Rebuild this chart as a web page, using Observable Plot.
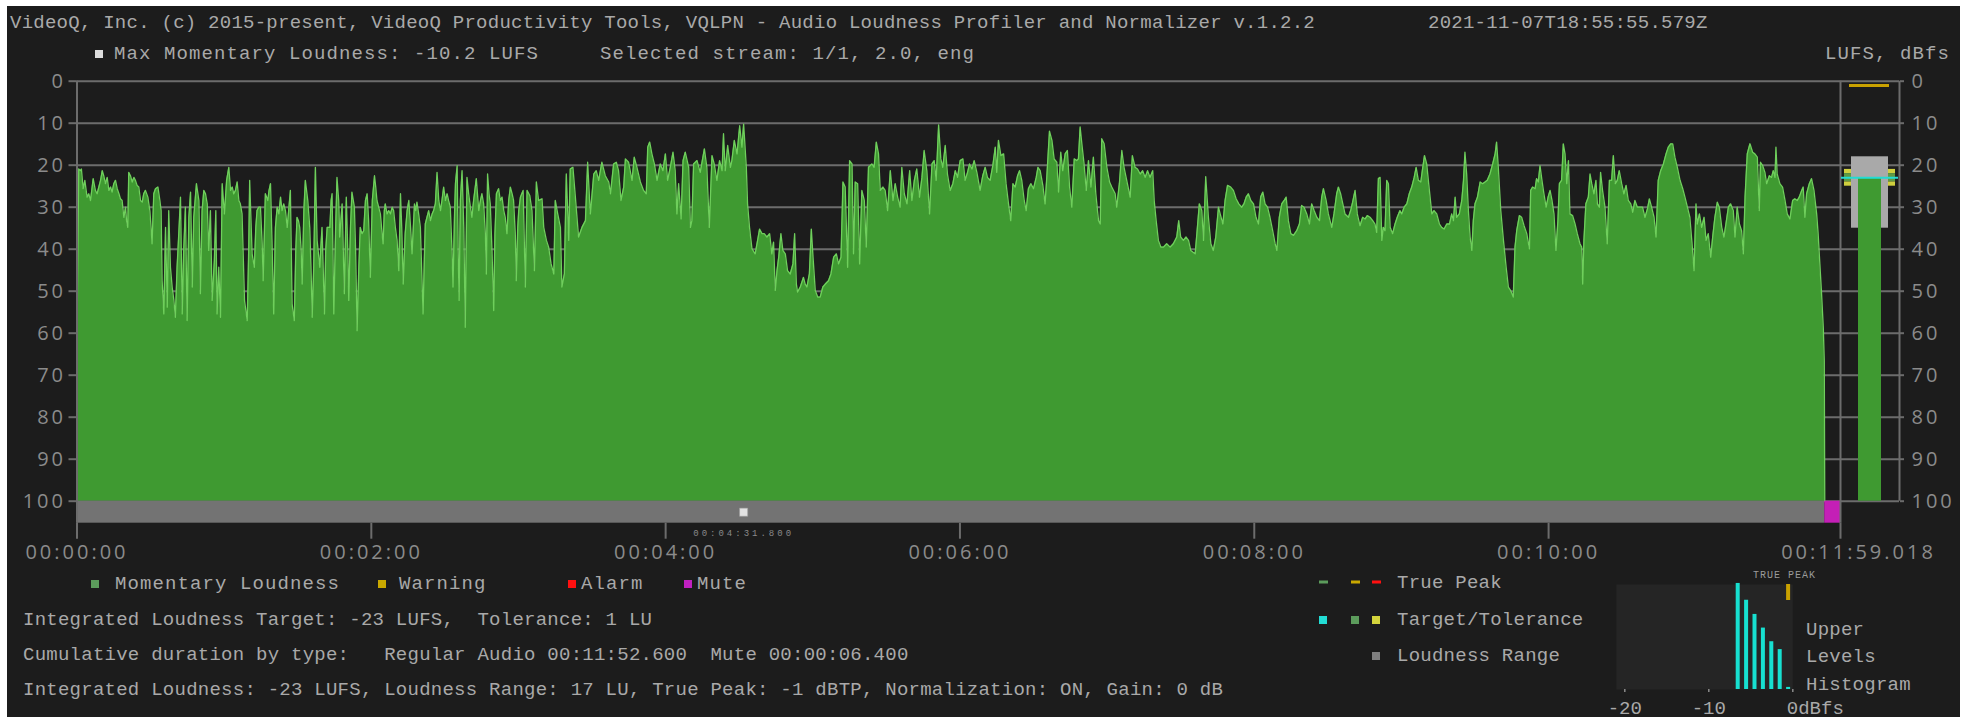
<!DOCTYPE html>
<html><head><meta charset="utf-8">
<script src="https://cdn.jsdelivr.net/npm/d3@7"></script>
<script src="https://cdn.jsdelivr.net/npm/@observablehq/plot@0.6"></script>
<style>
html,body{margin:0;padding:0;background:#fff;overflow:hidden;width:1967px;height:718px}
#bg{position:absolute;left:7px;top:6px;width:1953px;height:711px;background:#1c1c1c}
.layer{position:absolute;left:0;top:0}
.layer svg{max-width:none;display:block}
.t{position:absolute;font-family:"Liberation Mono",monospace;font-size:19px;letter-spacing:0.25px;color:#a9a9a9;white-space:pre;line-height:1;transform:translateY(-50%)}
.w{letter-spacing:1.1px}
.sq{position:absolute;transform:translateY(-50%)}
</style></head><body>
<div id="bg"></div>
<div id="main" class="layer"></div>
<div id="meter" class="layer"></div>
<div id="hist" class="layer"></div>
<div id="texts"></div>
<script>
// ---------------- data ----------------
// momentary loudness readings: [time in seconds, LUFS]
const momentaryReadings = [
[0.0,-61.7],[0.7,-20.9],[1.4,-21.3],[1.8,-20.9],[2.5,-25.6],[3.2,-23.6],[4.1,-27.6],[4.8,-26.8],[5.5,-28.4],[6.6,-23.2],
[7.5,-26.0],[8.2,-26.8],[9.6,-23.6],[10.3,-21.3],[10.9,-22.5],[11.6,-24.4],[12.3,-22.9],[13.0,-26.0],[13.7,-25.2],[14.3,-26.4],
[15.0,-24.4],[15.7,-23.6],[16.4,-25.6],[17.1,-26.8],[17.7,-28.0],[18.4,-28.4],[19.1,-32.4],[19.8,-30.0],[20.2,-33.2],[20.7,-34.8],
[21.1,-21.7],[21.8,-22.5],[22.5,-24.0],[23.2,-22.9],[23.8,-23.6],[24.5,-24.8],[25.2,-25.2],[25.9,-28.4],[26.6,-28.8],[27.2,-26.8],
[27.9,-26.0],[28.9,-27.6],[29.7,-30.8],[30.2,-34.8],[30.6,-38.7],[31.3,-26.8],[32.0,-25.6],[33.0,-25.2],[33.8,-28.4],[34.3,-30.8],
[34.7,-47.5],[35.4,-55.4],[36.1,-34.8],[36.8,-53.8],[37.4,-30.8],[38.1,-44.3],[38.8,-49.0],[39.5,-52.2],[40.1,-56.2],[40.8,-44.3],
[41.5,-36.3],[42.2,-27.6],[42.9,-55.4],[43.5,-40.3],[44.2,-30.0],[44.9,-57.0],[45.6,-32.4],[46.3,-26.4],[47.0,-49.0],[47.6,-32.4],
[48.7,-24.4],[49.7,-28.4],[50.3,-50.6],[51.0,-30.8],[51.7,-26.0],[52.4,-26.8],[53.1,-29.2],[53.7,-40.3],[54.4,-30.8],[55.1,-52.2],
[56.0,-42.7],[56.6,-30.8],[57.1,-55.4],[57.8,-44.3],[58.5,-56.2],[59.2,-24.4],[60.1,-31.6],[61.0,-23.6],[61.9,-20.5],[62.6,-26.0],
[63.3,-25.2],[63.9,-26.8],[64.6,-26.0],[65.3,-24.0],[66.0,-28.4],[66.6,-29.2],[67.3,-31.6],[68.3,-52.2],[69.4,-57.0],[70.0,-40.3],
[70.4,-23.6],[71.4,-41.1],[72.3,-44.3],[72.9,-34.8],[73.4,-30.8],[74.1,-30.0],[74.8,-30.0],[75.5,-38.7],[75.9,-47.5],[76.8,-26.8],
[77.8,-28.4],[78.3,-26.0],[78.9,-24.4],[79.5,-37.9],[80.2,-55.4],[80.9,-34.8],[81.6,-30.0],[82.3,-31.6],[83.0,-27.6],[83.6,-30.8],
[84.3,-29.2],[85.0,-30.8],[85.7,-34.8],[86.3,-30.8],[87.0,-26.0],[87.7,-53.0],[88.6,-57.0],[89.2,-40.3],[89.7,-32.4],[90.3,-33.2],
[90.8,-34.8],[91.4,-40.3],[91.8,-48.3],[92.5,-30.8],[93.1,-23.6],[94.1,-28.4],[94.9,-34.8],[95.4,-44.3],[95.9,-56.2],[96.5,-44.3],
[97.2,-20.5],[97.9,-37.9],[99.0,-44.3],[99.5,-38.7],[99.9,-34.8],[100.9,-55.4],[101.4,-40.3],[102.0,-34.8],[103.1,-34.8],[103.6,-28.4],
[104.0,-26.8],[104.7,-55.4],[105.4,-36.3],[106.0,-22.9],[106.7,-28.4],[107.1,-37.1],[108.1,-29.2],[109.0,-50.6],[109.8,-27.6],[110.4,-40.3],
[110.8,-52.2],[111.5,-34.8],[112.1,-26.4],[113.1,-30.0],[113.6,-40.3],[114.2,-59.4],[114.9,-44.3],[115.5,-34.8],[116.2,-36.3],[116.9,-35.6],
[117.6,-28.4],[118.3,-26.8],[118.9,-33.2],[119.6,-46.7],[120.4,-28.4],[121.3,-22.5],[121.8,-25.2],[122.3,-28.4],[123.0,-30.0],[123.7,-31.6],
[124.4,-36.3],[124.8,-38.7],[125.3,-30.8],[125.7,-29.2],[126.4,-31.6],[127.1,-30.8],[127.8,-31.6],[128.5,-30.0],[129.1,-30.8],[129.8,-34.8],
[130.5,-37.9],[131.2,-45.1],[131.9,-26.8],[132.4,-34.8],[133.0,-48.3],[133.8,-36.3],[134.6,-30.8],[135.3,-28.4],[136.0,-34.8],[136.6,-41.1],
[137.6,-29.2],[138.1,-30.8],[138.6,-28.8],[139.3,-31.6],[140.0,-34.8],[140.5,-44.3],[141.1,-55.4],[141.6,-42.7],[142.0,-34.0],[142.7,-32.4],
[143.4,-30.8],[144.1,-33.2],[144.8,-31.6],[145.4,-30.8],[146.1,-29.2],[146.8,-21.7],[147.5,-28.4],[148.2,-30.8],[148.8,-28.4],[149.5,-25.2],
[150.2,-28.4],[150.9,-26.8],[151.5,-28.4],[152.2,-30.0],[152.9,-40.3],[153.3,-49.0],[153.9,-32.4],[154.3,-24.4],[155.0,-20.1],[155.4,-40.3],
[155.8,-52.2],[156.3,-28.4],[157.0,-21.3],[157.7,-34.8],[158.3,-58.6],[159.0,-22.9],[159.7,-26.8],[160.4,-30.0],[161.0,-32.4],[161.7,-28.4],
[162.8,-23.2],[163.8,-30.8],[164.5,-28.4],[165.1,-26.8],[165.8,-29.2],[166.5,-36.3],[166.9,-45.9],[167.4,-22.1],[168.0,-26.8],[168.5,-29.2],
[169.2,-40.3],[169.9,-54.6],[170.4,-36.3],[171.0,-26.8],[171.9,-25.6],[172.6,-28.4],[173.3,-27.6],[174.0,-30.8],[174.6,-32.4],[175.3,-36.3],
[176.0,-28.4],[176.7,-25.2],[177.4,-26.8],[178.0,-28.4],[178.7,-36.3],[179.1,-47.5],[179.7,-34.8],[180.1,-30.8],
[180.8,-27.6],[181.9,-26.0],[182.8,-49.0],[183.5,-26.0],[184.6,-27.2],[185.5,-30.8],[186.5,-45.1],[187.3,-24.0],[188.2,-28.4],[189.6,-28.0],
[190.3,-34.8],[191.4,-37.9],[192.3,-39.5],[193.3,-43.5],[194.4,-45.9],[195.0,-28.4],[196.0,-31.6],[197.1,-34.8],[197.7,-49.0],[198.7,-45.9],
[199.5,-22.1],[200.5,-37.9],[201.1,-20.9],[202.2,-20.5],[203.2,-27.6],[204.5,-37.1],[205.9,-34.8],[207.3,-33.2],[208.2,-19.3],[209.3,-31.6],
[210.7,-22.1],[211.7,-21.3],[212.7,-23.6],[214.0,-19.3],[215.4,-22.5],[216.8,-24.0],[217.5,-26.8],[218.8,-19.7],[219.9,-19.3],[220.8,-21.3],
[221.8,-28.4],[222.9,-25.2],[223.6,-18.5],[224.9,-19.3],[226.3,-23.6],[227.2,-18.1],[228.3,-20.5],[229.7,-24.0],[231.0,-26.0],[232.1,-26.8],
[232.7,-15.7],[233.5,-14.5],[234.4,-17.3],[235.4,-19.7],[236.5,-23.6],[237.8,-19.7],[238.9,-21.3],[239.9,-17.3],[240.8,-23.6],[241.9,-20.5],
[243.0,-16.9],[243.9,-21.3],[244.6,-31.6],[245.3,-24.4],[246.3,-32.8],[247.1,-18.9],[248.0,-16.9],[249.4,-20.5],[250.1,-34.8],[250.7,-33.2],
[251.4,-19.7],[252.8,-18.9],[254.1,-21.7],[255.8,-16.1],[256.8,-20.5],[257.8,-34.8],[258.9,-17.7],[259.8,-19.7],[260.9,-23.6],[262.0,-18.9],
[263.0,-21.3],[263.6,-12.5],[264.3,-21.3],[265.3,-15.3],[266.4,-20.5],[267.0,-18.9],[268.0,-14.1],[269.1,-17.3],[270.2,-10.6],[271.1,-15.7],
[271.8,-10.2],[272.9,-20.5],[273.4,-29.2],[274.2,-34.8],[275.2,-39.9],[276.5,-41.1],[277.5,-37.9],[278.3,-35.2],[279.3,-36.3],[280.2,-36.3],
[281.3,-37.1],[282.4,-36.3],[283.3,-41.1],[284.0,-38.3],[284.7,-49.8],[285.4,-45.1],[286.1,-41.9],[287.0,-36.3],[287.8,-40.3],[288.8,-41.1],
[289.7,-45.1],[290.8,-45.9],[291.9,-43.5],[292.6,-36.3],[293.3,-48.3],[293.8,-50.2],[294.9,-49.0],[296.2,-46.7],[296.9,-48.3],[297.6,-49.0],
[298.6,-45.9],[299.4,-35.2],[300.1,-41.9],[301.0,-49.8],[302.0,-51.4],[303.0,-51.4],[304.1,-49.0],[305.1,-48.3],[306.4,-47.5],[307.4,-45.9],
[308.5,-41.9],[309.6,-41.1],[310.5,-43.5],[311.5,-41.9],[312.3,-24.0],[313.2,-25.2],[314.2,-44.3],[315.0,-18.9],[316.0,-19.7],[316.6,-41.1],
[317.3,-24.0],[318.3,-24.4],[319.1,-43.5],[320.0,-26.0],[321.0,-28.4],[321.8,-39.5],[322.7,-20.5],[324.1,-19.7],[325.0,-20.5],[325.9,-14.5],
[326.8,-17.3],[327.5,-26.0],[328.6,-25.2],[329.5,-26.0],[330.5,-30.8],[331.6,-21.3],[332.7,-28.4],[333.6,-24.4],[334.6,-27.6],[335.6,-30.0],
[336.3,-20.5],[337.3,-26.8],[338.4,-29.2],[339.5,-21.3],[340.4,-28.4],[341.4,-23.6],[342.4,-20.9],[343.5,-27.6],[344.5,-22.9],[345.4,-16.5],
[346.5,-21.3],[347.6,-31.6],[348.6,-19.7],[349.5,-18.9],[350.3,-23.6],[351.3,-10.4],[352.2,-18.5],[353.0,-20.5],[354.0,-15.3],[354.9,-22.1],
[356.0,-26.0],[357.1,-24.4],[358.1,-21.3],[359.0,-22.9],[360.1,-18.9],
[361.2,-18.5],[362.1,-23.6],[363.1,-21.7],[363.9,-19.7],[364.9,-20.9],[365.8,-18.9],[366.9,-21.7],[368.2,-26.0],[369.3,-22.5],[370.3,-20.5],
[371.2,-22.9],[372.3,-23.6],[373.4,-20.1],[374.4,-15.7],[375.0,-21.7],[375.7,-14.1],[376.7,-17.7],[377.8,-17.3],[378.8,-24.4],[379.8,-29.2],
[380.7,-33.2],[381.6,-24.4],[382.5,-25.2],[383.5,-22.5],[384.3,-21.3],[385.2,-23.6],[386.2,-28.4],[387.0,-30.8],[387.9,-25.6],[388.9,-24.4],
[390.0,-25.6],[391.1,-22.9],[391.8,-20.5],[392.7,-21.3],[393.8,-24.8],[394.7,-29.2],[395.4,-22.9],[396.5,-11.9],[397.5,-14.1],[398.4,-18.5],
[399.5,-19.3],[400.2,-26.4],[401.1,-16.9],[401.9,-21.3],[402.9,-17.3],[403.8,-16.5],[404.7,-25.2],[405.6,-30.0],[406.6,-18.5],[407.6,-18.9],
[408.3,-18.5],[409.0,-10.9],[409.7,-14.9],[410.6,-19.7],[411.5,-26.0],[412.4,-18.9],[413.4,-25.2],[414.4,-18.1],[415.4,-26.8],[416.5,-33.2],
[417.2,-34.0],[417.8,-13.7],[418.8,-14.9],[419.9,-20.5],[421.0,-24.0],[421.9,-25.2],[423.3,-26.8],[423.9,-30.0],[425.0,-24.4],[426.0,-16.5],
[426.9,-20.5],[428.0,-23.6],[429.4,-27.6],[430.3,-17.7],[431.4,-20.5],[432.4,-20.9],[433.5,-22.1],[434.5,-21.3],[435.5,-22.9],[436.5,-21.3],
[437.5,-22.9],[438.6,-21.3],[439.2,-28.4],[440.0,-33.2],[440.9,-37.9],[441.9,-39.5],[443.0,-39.5],[444.3,-38.7],[445.7,-39.5],[447.0,-38.7],
[448.4,-37.1],[449.2,-33.2],[450.0,-37.1],[451.1,-37.9],[452.2,-37.1],[453.2,-37.9],[454.1,-40.3],[455.9,-41.1],[456.6,-36.3],[457.6,-29.2],
[458.6,-30.8],[459.3,-37.9],[460.2,-22.7],[461.3,-32.4],[462.3,-38.7],[463.3,-40.3],[464.3,-37.1],[465.4,-30.0],[466.1,-31.6],[467.2,-34.0],
[468.1,-28.4],[469.1,-24.8],[470.4,-25.2],[471.5,-26.0],[472.6,-28.0],[473.7,-29.2],[474.9,-30.0],[475.8,-29.2],[476.7,-27.6],[477.6,-26.8],
[478.6,-28.4],[479.7,-29.2],[480.7,-32.4],[481.7,-34.0],[482.6,-27.6],[483.5,-26.4],[484.4,-29.2],[485.4,-30.0],[486.4,-32.4],[487.5,-35.6],
[488.5,-38.7],[489.2,-40.3],[490.2,-32.4],[491.2,-29.2],[492.2,-28.4],[493.0,-27.6],[493.9,-33.2],[494.9,-36.3],[496.0,-36.7],[497.3,-35.6],
[498.4,-34.0],[499.3,-29.6],[500.3,-30.0],[501.4,-31.6],[502.5,-34.0],[503.4,-29.2],[504.4,-30.8],[505.5,-32.4],[506.6,-33.2],[507.5,-27.6],
[508.2,-25.6],[509.3,-28.4],[510.2,-31.6],[511.6,-34.8],[512.5,-31.6],[513.6,-26.8],[514.3,-25.2],[515.2,-26.8],[516.1,-29.2],[517.0,-31.6],
[518.4,-32.4],[519.3,-30.8],[520.1,-28.8],[521.1,-26.0],[522.0,-31.6],[523.1,-34.4],[524.2,-32.4],[525.2,-32.8],[526.1,-32.0],[527.2,-32.4],
[528.3,-33.2],[529.2,-34.0],[529.9,-36.0],[530.6,-23.2],[531.3,-22.9],[532.0,-37.9],[532.6,-34.8],[533.3,-35.6],[534.0,-23.6],[534.7,-24.4],
[535.4,-34.8],[536.4,-36.3],[537.4,-34.0],[538.3,-32.4],[539.4,-30.8],
[540.1,-31.6],[541.1,-30.0],[542.2,-29.2],[543.2,-26.8],[544.2,-25.2],[545.2,-22.9],[546.0,-20.5],[546.9,-23.6],[547.9,-24.0],[548.7,-20.5],
[549.4,-17.7],[550.3,-19.7],[551.4,-26.0],[552.4,-31.6],[553.3,-30.8],[554.4,-31.6],[555.5,-34.0],[556.4,-34.8],[557.4,-35.2],[558.5,-34.0],
[559.6,-34.0],[560.5,-31.6],[561.2,-33.2],[561.9,-27.6],[562.5,-32.4],[563.6,-31.6],[564.6,-28.4],[565.3,-23.6],[565.9,-16.9],[566.6,-22.1],
[567.3,-30.8],[568.0,-37.1],[568.7,-40.3],[569.3,-33.2],[570.0,-29.2],[571.0,-27.6],[572.1,-24.0],[573.1,-24.4],[574.1,-24.0],[575.0,-23.6],
[576.1,-22.1],[577.2,-19.7],[578.2,-17.3],[578.8,-14.5],[579.5,-20.5],[580.5,-30.8],[581.6,-37.9],[582.7,-44.3],[583.6,-49.0],[584.5,-49.8],
[585.6,-51.4],[586.3,-39.5],[587.0,-35.6],[588.1,-32.0],[589.0,-32.4],[590.0,-34.4],[591.1,-36.3],[592.2,-39.9],[592.7,-26.0],[593.5,-25.2],
[594.5,-25.6],[595.1,-23.2],[595.8,-24.0],[596.5,-20.1],[597.3,-23.6],[598.1,-26.8],[599.0,-30.0],[599.8,-27.6],[600.6,-26.0],[601.4,-28.4],
[602.2,-31.6],[603.0,-40.3],[603.8,-33.2],[604.4,-24.4],[605.3,-23.6],[606.0,-14.9],[606.7,-17.3],[607.4,-24.4],[608.1,-18.9],[608.7,-31.6],
[609.8,-32.0],[610.8,-34.0],[611.7,-36.3],[612.8,-38.7],[613.5,-39.5],[613.9,-48.3],[614.4,-37.9],[615.2,-29.2],[616.2,-27.6],[616.9,-22.1],
[617.6,-24.4],[618.5,-26.8],[619.3,-23.6],[619.9,-29.2],[620.7,-30.0],[621.2,-21.7],[622.0,-26.0],[623.0,-30.0],[623.9,-38.7],[624.8,-23.6],
[625.7,-23.6],[626.4,-17.7],[627.2,-24.4],[628.0,-23.6],[628.8,-21.3],[629.8,-24.4],[630.7,-26.8],[631.6,-24.8],[632.5,-28.4],[633.5,-29.2],
[634.3,-31.2],[635.2,-28.4],[636.2,-30.0],[637.3,-30.0],[638.3,-30.0],[639.3,-32.4],[640.3,-30.4],[641.1,-28.0],[642.0,-30.0],[643.0,-32.4],
[643.8,-37.1],[644.7,-23.6],[645.7,-21.3],[646.8,-19.7],[647.9,-17.3],[648.8,-15.7],[649.8,-14.9],[650.6,-14.9],[651.5,-18.1],[652.5,-20.5],
[653.6,-23.6],[654.7,-25.6],[655.6,-27.6],[656.6,-30.0],[657.6,-32.4],[658.5,-38.7],[659.3,-45.1],[660.1,-29.2],[660.6,-34.0],[661.5,-31.6],
[662.4,-34.8],[663.4,-32.4],[664.2,-37.9],[665.1,-36.3],[666.1,-41.9],[666.9,-37.1],[667.8,-32.4],[668.8,-28.8],[669.6,-30.0],[670.6,-34.8],
[671.5,-37.1],[672.3,-34.0],[673.3,-30.0],[674.2,-29.2],[675.3,-30.8],[676.0,-37.1],[676.9,-30.0],[677.8,-34.0],[678.7,-35.6],[679.4,-41.1],
[680.1,-27.6],[681.0,-17.3],[682.1,-14.9],[683.2,-16.9],[684.1,-17.3],[685.1,-18.1],[685.9,-30.8],[686.4,-19.3],[687.3,-20.1],[688.2,-21.7],
[688.9,-24.4],[690.0,-22.5],[690.9,-22.9],[691.6,-21.3],[692.3,-22.9],[692.7,-15.7],[693.2,-22.1],[694.3,-24.4],[695.4,-25.2],[696.4,-28.4],
[697.3,-31.6],[698.4,-32.8],[699.5,-28.4],[700.4,-28.0],[701.4,-28.4],[702.2,-27.6],[703.2,-26.0],[703.8,-25.2],[704.5,-32.4],[705.2,-26.8],
[706.3,-24.4],[707.2,-23.2],[708.2,-26.0],[709.3,-31.6],[709.9,-36.3],[710.6,-43.5],[711.3,-50.6],[712.0,-58.6],[712.4,-66.5],[712.6,-100]
];
const levelTicks = [0, 10, 20, 30, 40, 50, 60, 70, 80, 90, 100];
const timeTicks = [0, 120, 240, 360, 480, 600];
const duration = 719.018;
const timelineSegments = [
  {type: "Regular Audio", start: 0, end: 712.6},
  {type: "Mute", start: 712.6, end: 719.018}
];
const segmentColors = {"Regular Audio": "#737373", "Mute": "#c41fb6"};
const maxMomentary = {t: 271.8, lufs: -10.2};
const integratedLoudness = -23;
const targetLoudness = -23;
const tolerance = 1;
const loudnessRange = {low: -35, high: -18};
const truePeak = -1;
const histLower = [-7, -6, -5, -4, -3, -2, -1];
const histShare = [101, 85, 71.5, 58.5, 45.5, 38, 2];
const histTicks = [-20, -10];

// ---------------- helpers ----------------
const pad = n => String(n).padStart(2, "0");
function fmtTime(s) {
  const whole = Math.floor(s + 1e-9);
  const ms = Math.round((s - whole) * 1000);
  const base = pad(Math.floor(whole / 3600)) + ":" + pad(Math.floor(whole / 60) % 60) + ":" + pad(whole % 60);
  return ms ? base + "." + String(ms).padStart(3, "0") : base;
}
const moment = momentaryReadings.map(([t, l]) => ({t, v: -l}));
const W = 1967, H = 718;
const yMax = 105.24;
const gridColor = "#6c6c6c";
const common = {width: W, height: H, marginTop: 80.7, marginBottom: H - 522.7};
const yScale = {domain: [0, yMax], reverse: true, label: null};
const baseStyle = {background: "transparent", color: "#8b8b8b", fontFamily: "'Open Sans', sans-serif", fontSize: "20px", letterSpacing: "3px", overflow: "visible"};

// ---------------- main chart ----------------
const main = Plot.plot({
  ...common, marginLeft: 76.5, marginRight: W - 1840,
  x: {domain: [0, duration], label: null},
  y: yScale,
  color: {type: "identity"},
  style: baseStyle,
  marks: [
    Plot.ruleY(levelTicks, {stroke: gridColor, strokeWidth: 2}),
    Plot.areaY(moment, {x: "t", y1: () => 100, y2: "v", fill: "#3f9a31", curve: "linear"}),
    Plot.lineY(moment, {x: "t", y: "v", stroke: "#6fcf5c", strokeWidth: 1.3}),
    Plot.rect(timelineSegments, {x1: "start", x2: "end", y1: () => 100, y2: () => yMax, fill: d => segmentColors[d.type]}),
    Plot.dot([maxMomentary], {x: "t", y: () => (100 + yMax) / 2, symbol: "square", r: 4.6, fill: "#e2e2e2", stroke: "#9a9a9a", strokeWidth: 0.6}),
    Plot.text([maxMomentary], {x: "t", y: () => yMax, text: d => fmtTime(d.t), dy: 9.5, fill: "#8a8a8a", fontSize: 9, fontFamily: "Liberation Mono", ariaLabel: "maxlabel"}),
    Plot.ruleX([0, duration], {y1: 0, y2: yMax, stroke: gridColor, strokeWidth: 2}),
    Plot.axisY(levelTicks, {anchor: "left", tickSize: 8, tickPadding: 3, stroke: gridColor, strokeWidth: 2}),
    Plot.axisX(timeTicks, {anchor: "bottom", tickSize: 16, tickPadding: 6, tickFormat: fmtTime, stroke: gridColor, strokeWidth: 2}),
    Plot.axisX([duration], {anchor: "bottom", tickSize: 16, tickFormat: () => "", stroke: gridColor, strokeWidth: 2}),
    Plot.axisX([duration], {anchor: "bottom", tickSize: 0, tickPadding: 22, tickFormat: fmtTime, dx: 18})
  ]
});
d3.select(main).selectAll("g[aria-label='maxlabel'] text").style("letter-spacing", "0.8px");
document.getElementById("main").append(main);

// ---------------- right level meter ----------------
const tolBands = [
  {y1: -(targetLoudness + tolerance) - 1, y2: -(targetLoudness + tolerance), fill: "#cfcf3e"},
  {y1: -(targetLoudness + tolerance), y2: -(targetLoudness - tolerance), fill: "#5f9a45"},
  {y1: -(targetLoudness - tolerance), y2: -(targetLoudness - tolerance) + 1, fill: "#cfcf3e"}
];
const meter = Plot.plot({
  ...common, marginLeft: 1840, marginRight: W - 1899,
  x: {domain: [0, 1], axis: null},
  y: yScale,
  color: {type: "identity"},
  style: baseStyle,
  marks: [
    Plot.ruleY(levelTicks, {stroke: gridColor, strokeWidth: 2}),
    Plot.ruleX([1], {y1: 0, y2: 100, stroke: gridColor, strokeWidth: 2}),
    Plot.axisY(levelTicks, {anchor: "right", tickSize: 4, tickPadding: 8, stroke: gridColor, strokeWidth: 2}),
    Plot.rect([loudnessRange], {x1: () => 0, x2: () => 1, y1: d => -d.low, y2: d => -d.high, insetLeft: 11, insetRight: 11, fill: "#a9a9a9"}),
    Plot.rect(tolBands, {x1: () => 0, x2: () => 1, y1: "y1", y2: "y2", fill: "fill", insetLeft: 4, insetRight: 48}),
    Plot.rect(tolBands, {x1: () => 0, x2: () => 1, y1: "y1", y2: "y2", fill: "fill", insetLeft: 48, insetRight: 4}),
    Plot.rect([integratedLoudness], {x1: () => 0, x2: () => 1, y1: d => -d, y2: () => 100, insetLeft: 18, insetRight: 18, fill: "#3f9a31"}),
    Plot.ruleY([targetLoudness], {y: d => -d, stroke: "#22dcd4", strokeWidth: 2, insetLeft: 1, insetRight: 1}),
    Plot.ruleY([truePeak], {y: d => -d, stroke: "#c9a100", strokeWidth: 3, insetLeft: 9, insetRight: 10})
  ]
});
document.getElementById("meter").append(meter);

// ---------------- upper levels histogram ----------------
const hist = histLower.map((lo, i) => ({lo, share: histShare[i]}));
const monoStyle = {fontFamily: "Liberation Mono", fontSize: 19, fill: "#a9a9a9"};
const histPlot = Plot.plot({
  width: W, height: H, marginLeft: 1615.9, marginRight: W - 1792.3, marginTop: 584, marginBottom: H - 689,
  x: {domain: [-21, 0], label: null},
  y: {domain: [0, 100], axis: null},
  style: {background: "transparent", color: "#8b8b8b", overflow: "visible"},
  marks: [
    Plot.frame({fill: "#252525", stroke: "none"}),
    Plot.rect(hist, {x1: "lo", x2: d => d.lo + 1, y1: () => 0, y2: "share", insetLeft: 2.2, insetRight: 2.2, fill: "#17e0d0"}),
    Plot.rect([truePeak], {x1: d => d, x2: d => d + 1, y1: () => 0, y2: () => 100, insetLeft: 2.2, insetRight: 2.2, insetBottom: 89, fill: "#c9a100"}),
    Plot.axisX([...histTicks, 0], {anchor: "bottom", tickSize: 3, tickFormat: () => "", stroke: "#8b8b8b", strokeWidth: 1.5}),
    Plot.text(histTicks, {x: d => d, y: () => 0, text: d => String(d), dy: 18, ...monoStyle}),
    Plot.text([0], {x: d => d, y: () => 0, text: () => "0dBfs", dy: 18, dx: -6, textAnchor: "start", ...monoStyle})
  ]
});
document.getElementById("hist").append(histPlot);

// ---------------- texts ----------------
const texts = [
  [10, 22.6, "VideoQ, Inc. (c) 2015-present, VideoQ Productivity Tools, VQLPN - Audio Loudness Profiler and Normalizer v.1.2.2", ""],
  [1428, 22.6, "2021-11-07T18:55:55.579Z", ""],
  [114, 54, "Max Momentary Loudness: -10.2 LUFS", "w"],
  [600, 54, "Selected stream: 1/1, 2.0, eng", "w"],
  [115, 584, "Momentary Loudness", "w"],
  [399, 584, "Warning", "w"],
  [581, 584, "Alarm", "w"],
  [697, 584, "Mute", "w"],
  [23, 620, "Integrated Loudness Target: -23 LUFS,  Tolerance: 1 LU", ""],
  [23, 655, "Cumulative duration by type:   Regular Audio 00:11:52.600  Mute 00:00:06.400", ""],
  [23, 690, "Integrated Loudness: -23 LUFS, Loudness Range: 17 LU, True Peak: -1 dBTP, Normalization: ON, Gain: 0 dB", ""],
  [1397, 583, "True Peak", ""],
  [1397, 620, "Target/Tolerance", ""],
  [1397, 656, "Loudness Range", ""],
  [1806, 630, "Upper", ""],
  [1806, 657, "Levels", ""],
  [1806, 685, "Histogram", ""]
];
const squares = [
  [95, 54, 8, 8, "#dcdcdc"],
  [91, 584, 8, 8, "#5c9c5c"], [378, 584, 8, 8, "#c9a800"], [568, 584, 8, 8, "#ff1010"], [684, 584, 8, 8, "#c020c0"],
  [1319, 582, 9, 3, "#5c9c5c"], [1351, 582, 9, 3, "#c9a800"], [1372, 582, 9, 3, "#ff1010"],
  [1319, 620, 8, 8, "#22dcd4"], [1351, 620, 8, 8, "#5c9c5c"], [1372, 620, 8, 8, "#d4d43c"],
  [1372, 656, 8, 8, "#808080"]
];
const holder = document.getElementById("texts");
for (const [x, y, s, cls] of texts) {
  const d = document.createElement("div");
  d.className = "t " + cls; d.style.left = x + "px"; d.style.top = y + "px"; d.textContent = s;
  holder.append(d);
}
{
  const d = document.createElement("div");
  d.className = "t w"; d.style.right = (W - 1950) + "px"; d.style.top = "54px"; d.textContent = "LUFS, dBfs";
  holder.append(d);
  const tp = document.createElement("div");
  tp.className = "t"; tp.style.left = "1753px"; tp.style.top = "576px"; tp.style.fontSize = "10px"; tp.style.letterSpacing = "1px"; tp.style.color = "#9a9a9a"; tp.textContent = "TRUE PEAK";
  holder.append(tp);
}
for (const [x, y, w, h, c] of squares) {
  const d = document.createElement("div");
  d.className = "sq"; d.style.left = x + "px"; d.style.top = y + "px"; d.style.width = w + "px"; d.style.height = h + "px"; d.style.background = c;
  holder.append(d);
}
</script>
</body></html>
